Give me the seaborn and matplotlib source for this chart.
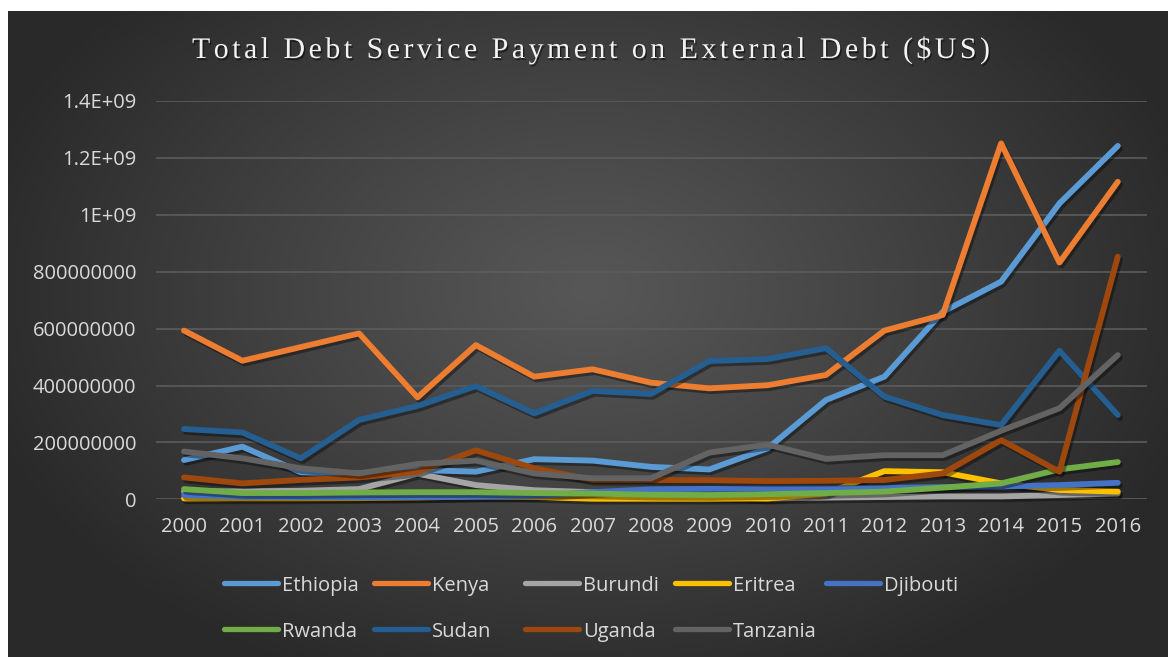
import numpy as np
import pandas as pd
import matplotlib
matplotlib.use("Agg")
import matplotlib.pyplot as plt
import matplotlib.patheffects as pe
from matplotlib.lines import Line2D
from matplotlib.ft2font import FT2Font
from matplotlib import font_manager
import seaborn as sns

# ---- data (US$ millions) ----
years = list(range(2000, 2017))
ethiopia = [138, 185, 95, 91, 103, 97, 141, 136, 114, 105, 179, 349, 431, 659, 765, 1040, 1242]
kenya = [593, 487, 535, 583, 358, 542, 431, 457, 410, 390, 401, 437, 593, 648, 1251, 832, 1116]
burundi = [28, 28, 30, 36, 90, 50, 32, 25, 18, 10, 2, 6, 8, 10, 10, 15, 20]
eritrea = [3, 3, 3, 4, 6, 10, 8, 2, 2, 2, 3, 20, 99, 95, 56, 33, 27]
djibouti = [15, 9, 8, 8, 8, 9, 12, 25, 35, 37, 38, 38, 40, 43, 45, 50, 58]
rwanda = [36, 22, 22, 24, 25, 25, 22, 20, 16, 15, 18, 22, 27, 41, 56, 105, 131]
sudan = [247, 235, 144, 279, 328, 398, 302, 381, 370, 486, 493, 531, 361, 296, 261, 522, 296]
uganda = [77, 56, 68, 77, 97, 172, 109, 68, 68, 67, 64, 65, 68, 91, 208, 97, 853]
tanzania = [168, 144, 109, 91, 124, 136, 91, 74, 74, 164, 192, 142, 155, 155, 241, 320, 507]

countries = ["Ethiopia", "Kenya", "Burundi", "Eritrea", "Djibouti",
             "Rwanda", "Sudan", "Uganda", "Tanzania"]
series = [ethiopia, kenya, burundi, eritrea, djibouti, rwanda, sudan, uganda, tanzania]
colors = ["#5B9BD5", "#ED7D31", "#A5A5A5", "#FFC000", "#4472C4",
          "#70AD47", "#255E91", "#9E480E", "#636363"]

title = "Total Debt Service Payment on External Debt ($US)"
y_ticks = [0, 2e8, 4e8, 6e8, 8e8, 1e9, 1.2e9, 1.4e9]
y_tick_labels = ["0", "200000000", "400000000", "600000000", "800000000",
                 "1E+09", "1.2E+09", "1.4E+09"]

df = pd.DataFrame({
    "year": np.tile(years, len(countries)),
    "country": np.repeat(countries, len(years)),
    "value": np.concatenate([np.array(s, dtype=float) * 1e6 for s in series]),
})

# ---- figure ----
sns.set_theme(style="dark")
plt.rcParams["font.family"] = ["Open Sans", "DejaVu Sans"]

W, H, DPI = 1168, 657, 100
fig = plt.figure(figsize=(W / DPI, H / DPI), dpi=DPI, facecolor="white")

# dark radial-gradient chart panel
bg = fig.add_axes([8 / W, 0, 1 - 8 / W, (H - 11) / H])
bg.set_axis_off()
ny, nx = 323, 580
yy, xx = np.mgrid[0:ny, 0:nx]
px = xx / (nx - 1) * (W - 8) + 8
py = yy / (ny - 1) * (H - 11) + 11
r = np.sqrt(((px - 590) / 640) ** 2 + ((py - 290) / 430) ** 2)
t = np.clip(r, 0, 1) ** 1.1
c0 = np.array([0x57, 0x57, 0x57]) / 255
c1 = np.array([0x29, 0x29, 0x29]) / 255
img = c0 + (c1 - c0) * t[..., None]
bg.imshow(img, aspect="auto", extent=[0, 1, 0, 1], origin="upper",
          interpolation="bilinear")

# plotting area
ax = fig.add_axes([156 / W, 1 - 499.3 / H, (1147 - 156) / W, (499.3 - 101) / H])
ax.patch.set_alpha(0)
ax.set_axisbelow(True)

LW = 4.2
shadow = [pe.SimpleLineShadow(offset=(1.5, -2), shadow_color="black", alpha=0.38),
          pe.Normal()]
sns.lineplot(data=df, x="year", y="value", hue="country", hue_order=countries,
             palette=dict(zip(countries, colors)), linewidth=LW, legend=False,
             ax=ax, sort=False, estimator=None, solid_capstyle="round",
             solid_joinstyle="round", path_effects=shadow, clip_on=False)

ax.set_xlim(1999.52, 2016.5)
ax.set_ylim(0, 1.4e9)
ax.set_xticks(years, [str(y) for y in years])
ax.set_yticks(y_ticks, y_tick_labels)
ax.grid(axis="y", color="#5c5c5c", linewidth=1.2)
ax.grid(axis="x", visible=False)
for s in ax.spines.values():
    s.set_visible(False)
ax.set_xlabel("")
ax.set_ylabel("")
ax.tick_params(axis="both", length=0, colors="#d9d9d9", labelsize=14.5)
ax.tick_params(axis="x", pad=13)
ax.tick_params(axis="y", pad=14)

# letter-spaced serif title
title_fp = font_manager.FontProperties(family="Liberation Serif")
ft = FT2Font(font_manager.findfont(title_fp))
title_pt = 21.5
ft.set_size(title_pt, DPI)
adv = [ft.load_char(ord(c)).linearHoriAdvance / 65536 for c in title]
target_w = 798
spacing = (target_w - sum(adv)) / (len(title) - 1)
x = 591 - target_w / 2
title_shadow = [pe.withSimplePatchShadow(offset=(1, -1.5), shadow_rgbFace="black", alpha=0.5)]
for c, a in zip(title, adv):
    if c != " ":
        fig.text(x / W, 1 - 58 / H, c, family="Liberation Serif", size=title_pt,
                 color="#f2f2f2", ha="left", va="baseline", path_effects=title_shadow)
    x += a + spacing

# legend: two rows, fixed column pitch
for i, (name, col) in enumerate(zip(countries, colors)):
    row, k = divmod(i, 5)
    x0 = 224 + 150.4 * k
    yl = 1 - (583.3 + 46 * row) / H
    fig.add_artist(Line2D([x0 / W, (x0 + 54) / W], [yl, yl], transform=fig.transFigure,
                          color=col, linewidth=3.8, solid_capstyle="round"))
    fig.text((x0 + 58) / W, yl, name, color="#d9d9d9", size=14.5,
             ha="left", va="center_baseline")

fig.savefig("out.png", dpi=DPI, facecolor="white")
